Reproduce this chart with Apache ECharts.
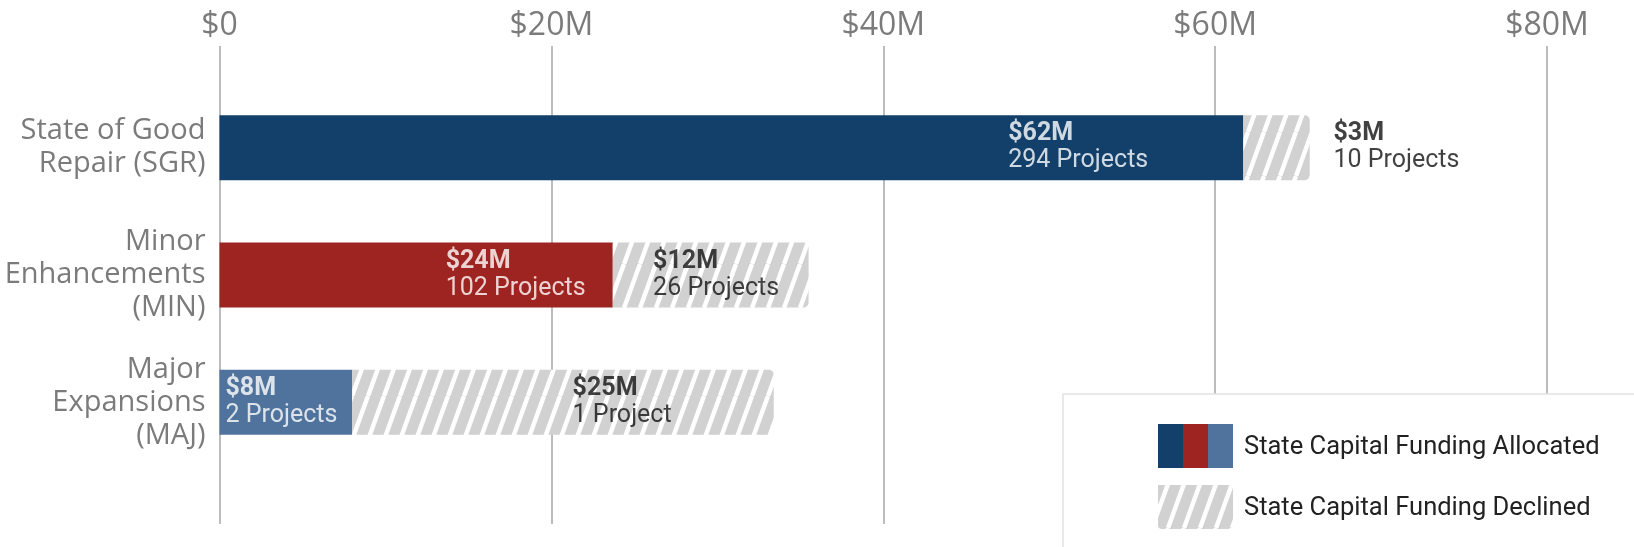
<!DOCTYPE html>
<html>
<head>
<meta charset="utf-8">
<script src="https://cdn.jsdelivr.net/npm/echarts@6/dist/echarts.min.js"></script>
<style>
  html, body { margin: 0; padding: 0; background: #fff; }
  #chart { width: 1634px; height: 547px; }
</style>
</head>
<body>
<div id="chart"></div>
<script>
// values in $M
var categories = ['State of Good\nRepair (SGR)', 'Minor\nEnhancements\n(MIN)', 'Major\nExpansions\n(MAJ)'];
var allocated = [61.7, 23.7, 8.0];
var declined = [4.0, 11.8, 25.4];
var allocatedAmount = ['$62M', '$24M', '$8M'];
var allocatedProjects = ['294 Projects', '102 Projects', '2 Projects'];
var declinedAmount = ['$3M', '$12M', '$25M'];
var declinedProjects = ['10 Projects', '26 Projects', '1 Project'];
var barColors = ['#12406a', '#9e2421', '#4f739c'];
var xMin = 0, xMax = 80, xStep = 20;
var legendNames = ['State Capital Funding Allocated', 'State Capital Funding Declined'];

// where the two-line labels start, in $M on the x axis
var allocatedLabelAt = [47.5, 13.6, 0.33];
var declinedLabelAt = [67.1, 26.1, 21.25];

var GRID_LEFT = 219.5, GRID_RIGHT = 87;
var catFont = '"Open Sans", "Noto Sans", sans-serif';
var txtFont = 'Roboto, "Noto Sans", sans-serif';

// grey hatch with white "/" stripes
function makeHatch() {
  var c = document.createElement('canvas');
  c.width = 16; c.height = 44;
  var ctx = c.getContext('2d');
  ctx.fillStyle = '#d1d1d1';
  ctx.fillRect(0, 0, 16, 44);
  ctx.strokeStyle = '#ffffff';
  ctx.lineWidth = 4.5;
  [-16, 0, 16].forEach(function (dx) {
    ctx.beginPath();
    ctx.moveTo(dx, 44);
    ctx.lineTo(dx + 16, 0);
    ctx.stroke();
  });
  return c;
}
var hatch = makeHatch();

function labelSeries(name, xs, amounts, projects, color) {
  return {
    name: name,
    type: 'scatter',
    xAxisIndex: 1,
    yAxisIndex: 1,
    silent: true,
    symbolSize: 1,
    itemStyle: { color: 'transparent' },
    z: 10,
    data: xs.map(function (x, i) { return [x, categories[i]]; }),
    label: {
      show: true,
      position: 'right',
      distance: 0,
      color: color,
      formatter: function (p) {
        return '{a|' + amounts[p.dataIndex] + '}\n{b|' + projects[p.dataIndex] + '}';
      },
      rich: {
        a: { fontFamily: txtFont, fontSize: 25, fontWeight: 'bold', lineHeight: 27, color: color },
        b: { fontFamily: txtFont, fontSize: 25, lineHeight: 27, color: color }
      }
    }
  };
}

var chart = echarts.init(document.getElementById('chart'));

var legendSwatches = barColors.map(function (c, i) {
  return {
    type: 'rect',
    z: 101,
    shape: { x: 1158 + i * 25, y: 424, width: 25, height: 44 },
    style: { fill: c }
  };
});

var option = {
  animation: false,
  backgroundColor: '#fff',
  grid: [
    // frame: top tick labels + vertical lines
    { left: GRID_LEFT, right: GRID_RIGHT, top: 46, bottom: 23 },
    // bars
    { left: GRID_LEFT, right: GRID_RIGHT, top: 84, bottom: 81 }
  ],
  xAxis: [{
    gridIndex: 0,
    type: 'value',
    position: 'top',
    min: xMin, max: xMax, interval: xStep,
    axisLine: { show: false },
    axisTick: { show: false },
    axisLabel: {
      margin: 4,
      color: '#7b7b7b',
      fontFamily: catFont,
      fontSize: 32,
      formatter: function (v) { return v === 0 ? '$0' : '$' + v + 'M'; }
    },
    splitLine: { show: true, lineStyle: { color: '#bcbcbc', width: 2 } }
  }, {
    gridIndex: 1,
    type: 'value',
    min: xMin, max: xMax,
    show: false
  }],
  yAxis: [{
    gridIndex: 0,
    type: 'value',
    show: false
  }, {
    gridIndex: 1,
    type: 'category',
    inverse: true,
    data: categories,
    axisLine: { show: false },
    axisTick: { show: false },
    axisLabel: {
      margin: 14,
      color: '#7b7b7b',
      fontFamily: catFont,
      fontSize: 29,
      lineHeight: 33,
      align: 'right'
    }
  }],
  series: [{
    name: legendNames[0],
    type: 'bar',
    stack: 'funding',
    xAxisIndex: 1,
    yAxisIndex: 1,
    silent: true,
    barWidth: 65,
    data: allocated.map(function (v, i) {
      return { value: v, itemStyle: { color: barColors[i] } };
    })
  }, {
    name: legendNames[1],
    type: 'bar',
    stack: 'funding',
    xAxisIndex: 1,
    yAxisIndex: 1,
    silent: true,
    barWidth: 65,
    itemStyle: {
      color: { image: hatch, repeat: 'repeat' },
      borderRadius: [0, 5, 5, 0]
    },
    data: declined
  },
    labelSeries('allocatedLabels', allocatedLabelAt, allocatedAmount, allocatedProjects, '#ffffff'),
    labelSeries('declinedLabels', declinedLabelAt, declinedAmount, declinedProjects, '#111111')
  ],
  graphic: [{
    type: 'rect',
    z: 100,
    shape: { x: 1063, y: 394, width: 600, height: 200 },
    style: { fill: '#fff', stroke: '#e2e2e2', lineWidth: 1.5 }
  }].concat(legendSwatches).concat([{
    type: 'rect',
    z: 101,
    shape: { x: 1158, y: 485, width: 75, height: 44, r: [0, 0, 4, 4] },
    style: { fill: { image: hatch, repeat: 'repeat' } }
  }, {
    type: 'text',
    z: 101,
    left: 1244,
    top: 435,
    style: { text: legendNames[0], fill: '#222', font: '25.5px ' + txtFont }
  }, {
    type: 'text',
    z: 101,
    left: 1244,
    top: 496,
    style: { text: legendNames[1], fill: '#222', font: '25.5px ' + txtFont }
  }])
};

chart.setOption(option);
</script>
</body>
</html>
